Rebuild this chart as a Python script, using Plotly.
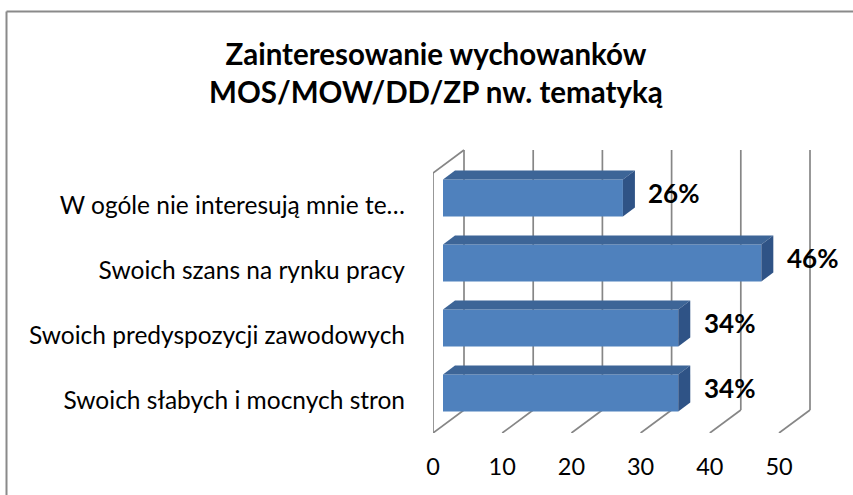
import plotly.graph_objects as go

# ---- data ----
categories = [
    "Swoich słabych i mocnych stron",
    "Swoich predyspozycji zawodowych",
    "Swoich szans na rynku pracy",
    "W ogóle nie interesują mnie te…",
]
values = [34, 34, 46, 26]
labels = ["34%", "34%", "46%", "26%"]
x_ticks = [0, 10, 20, 30, 40, 50]
title_lines = ["Zainteresowanie wychowanków", "MOS/MOW/DD/ZP nw. tematyką"]

# ---- geometry / style ----
W, H = 853, 495
ML, MR, MT, MB = 433, 0, 140, 62
plot_w = W - ML - MR
plot_h = H - MT - MB
KX = 346 / 50.0          # px per x unit
KY = 65.0                # px per category
x_max = plot_w / KX
y_min = -0.5
y_max = y_min + plot_h / KY

DX = 31 / KX             # depth offset of back wall (x)
DY = 23 / KY             # depth offset of back wall (y)
BX = 10 / KX             # bar front face offset (x)
BY = 7.5 / KY            # bar front face offset (y)
DDX = 12 / KX            # bar depth (x)
DDY = 9 / KY             # bar depth (y)
BH = 37 / KY             # bar thickness

FONT = "Lato"
GRID = "#868686"
FRONT = "#4F81BD"
TOP = "#3D6597"
SIDE = "#2F5386"

n = len(categories)
y_lo, y_hi = -0.5, n - 0.5

fig = go.Figure()

shapes = []
# back wall gridlines + floor lines
for t in x_ticks:
    shapes.append(dict(type="line", xref="x", yref="y", layer="below",
                       x0=t + DX, y0=y_lo + DY, x1=t + DX, y1=y_hi + DY,
                       line=dict(color=GRID, width=1.7)))
    shapes.append(dict(type="line", xref="x", yref="y", layer="below",
                       x0=t, y0=y_lo, x1=t + DX, y1=y_lo + DY,
                       line=dict(color=GRID, width=1.7)))
# left side wall
shapes.append(dict(type="line", xref="x", yref="y", layer="below",
                   x0=x_ticks[0], y0=y_lo, x1=x_ticks[0], y1=y_hi,
                   line=dict(color=GRID, width=1.7)))
shapes.append(dict(type="line", xref="x", yref="y", layer="below",
                   x0=x_ticks[0], y0=y_hi, x1=x_ticks[0] + DX, y1=y_hi + DY,
                   line=dict(color=GRID, width=1.7)))
# chart border (left and top)
bx_paper = (6.5 - ML) / plot_w
by_paper = (H - MB - 11.5) / plot_h
shapes.append(dict(type="line", xref="paper", yref="paper", layer="above",
                   x0=bx_paper, y0=-0.5, x1=bx_paper, y1=by_paper,
                   line=dict(color="#8A8A8A", width=2)))
shapes.append(dict(type="line", xref="paper", yref="paper", layer="above",
                   x0=bx_paper, y0=by_paper, x1=1.2, y1=by_paper,
                   line=dict(color="#8A8A8A", width=2)))

# front faces of bars
ypos = [i + BY for i in range(n)]
fig.add_trace(go.Bar(
    x=values, y=ypos, base=[BX] * n, orientation="h", width=BH,
    marker=dict(color=FRONT, line=dict(width=0)), hoverinfo="skip",
    showlegend=False,
))

# top and side faces
for i, v in enumerate(values):
    x0 = BX
    x1 = BX + v
    yt = ypos[i] + BH / 2
    yb = ypos[i] - BH / 2
    fig.add_trace(go.Scatter(
        x=[x0, x0 + DDX, x1 + DDX, x1, x0],
        y=[yt, yt + DDY, yt + DDY, yt, yt],
        fill="toself", fillcolor=TOP, mode="lines",
        line=dict(width=0, color=TOP), hoverinfo="skip", showlegend=False))
    fig.add_trace(go.Scatter(
        x=[x1, x1, x1 + DDX, x1 + DDX, x1],
        y=[yb, yt, yt + DDY, yb + DDY, yb],
        fill="toself", fillcolor=SIDE, mode="lines",
        line=dict(width=0, color=SIDE), hoverinfo="skip", showlegend=False))

annotations = []
for i, v in enumerate(values):
    annotations.append(dict(
        x=BX + v + 3.4, y=ypos[i] + 0.08, xref="x", yref="y",
        text=labels[i], showarrow=False, xanchor="left", yanchor="middle",
        font=dict(family=FONT, size=26, color="black", weight="bold")))

# title as a two-line annotation
annotations.append(dict(
    x=(436 - ML) / plot_w, y=(H - MB - 72) / plot_h, xref="paper", yref="paper",
    text="<br>".join(title_lines), showarrow=False,
    xanchor="center", yanchor="middle",
    font=dict(family=FONT, size=29.5, color="black", weight="bold")))

fig.update_layout(
    width=W, height=H,
    margin=dict(l=ML, r=MR, t=MT, b=MB, pad=0),
    paper_bgcolor="white", plot_bgcolor="white",
    xaxis=dict(range=[0, x_max], tickvals=x_ticks, ticktext=[str(t) for t in x_ticks],
               showgrid=False, zeroline=False, showline=False, ticks="",
               ticklabelstandoff=17,
               tickfont=dict(family=FONT, size=23.5, color="black")),
    yaxis=dict(range=[y_min, y_max], tickvals=list(range(n)), ticktext=categories,
               showgrid=False, zeroline=False, showline=False, ticks="",
               ticklabelstandoff=27,
               tickfont=dict(family=FONT, size=24.5, color="black")),
    shapes=shapes, annotations=annotations, showlegend=False,
)

fig.write_html("out.html", config={"displayModeBar": False},
               post_script="document.body.style.margin='0px';")
